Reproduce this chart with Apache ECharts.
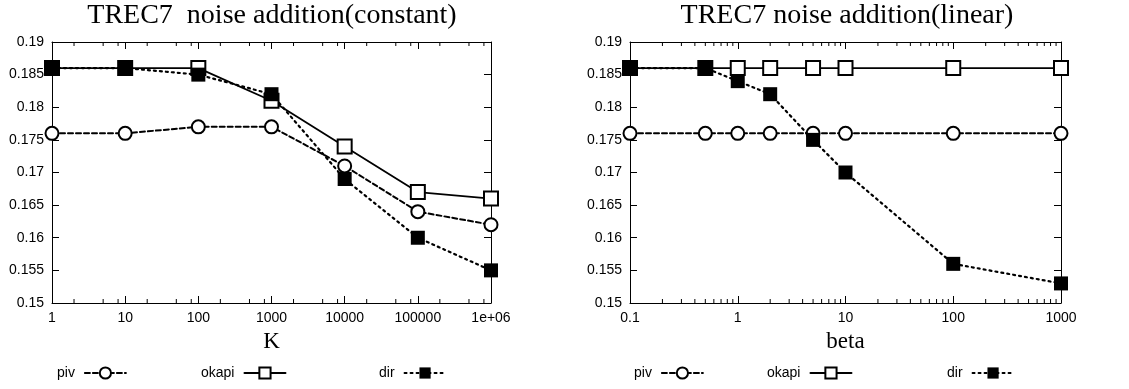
<!DOCTYPE html>
<html>
<head>
<meta charset="utf-8">
<script src="https://cdn.jsdelivr.net/npm/echarts@6/dist/echarts.min.js"></script>
<style>
  html, body { margin: 0; padding: 0; background: #fff; }
  #chart { width: 1129px; height: 389px; }
</style>
</head>
<body>
<div id="chart"></div>
<script>
// Left panel: constant noise, x = K
const kValues = [1, 10, 100, 1000, 10000, 100000, 1000000];
const pivConst = [0.176, 0.176, 0.177, 0.177, 0.171, 0.164, 0.162];
const okapiConst = [0.186, 0.186, 0.186, 0.181, 0.174, 0.167, 0.166];
const dirConst = [0.186, 0.186, 0.185, 0.182, 0.169, 0.160, 0.155];

// Right panel: linear noise, x = beta
const betaValues = [0.1, 0.5, 1, 2, 5, 10, 100, 1000];
const pivLinear = [0.176, 0.176, 0.176, 0.176, 0.176, 0.176, 0.176, 0.176];
const okapiLinear = [0.186, 0.186, 0.186, 0.186, 0.186, 0.186, 0.186, 0.186];
const dirLinear = [0.186, 0.186, 0.184, 0.182, 0.175, 0.170, 0.156, 0.153];

const titles = ['TREC7  noise addition(constant)', 'TREC7 noise addition(linear)'];
const xNames = ['K', 'beta'];
const seriesNames = ['piv', 'okapi', 'dir'];

const Y_MIN = 0.15, Y_MAX = 0.19, Y_STEP = 0.005;

const grids = [
  { left: 52, top: 42, width: 439, height: 261 },
  { left: 630, top: 42, width: 431, height: 261 }
];

const SANS = '"Liberation Sans", Arial, sans-serif';
const SERIF = '"Liberation Serif", "Times New Roman", serif';

function pairs(xs, ys) { return xs.map((x, i) => [x, ys[i]]); }

function fmtX(v) {
  if (v >= 1000000) return '1e+06';
  return String(Number(v.toPrecision(6)));
}
function fmtY(v) { return String(Number(v.toFixed(3))); }

// minor tick positions on the log axes
function minorTicks(lowExp, highExp, mults) {
  const out = [];
  for (let e = lowExp; e < highExp; e++) {
    mults.forEach(m => out.push([Number((m * Math.pow(10, e)).toPrecision(6)), Y_MIN]));
  }
  return out;
}
const minorLeft = minorTicks(0, 6, [2, 5, 8]);
const minorRight = minorTicks(-1, 3, [2, 3, 4, 5, 6, 7, 8, 9]);

const xAxes = [];
const yAxes = [];
[0, 1].forEach(g => {
  const xmin = g === 0 ? 1 : 0.1;
  const xmax = g === 0 ? 1000000 : 1000;
  const base = {
    type: 'log', logBase: 10, min: xmin, max: xmax, gridIndex: g,
    axisLine: { show: true, lineStyle: { color: '#000', width: 1 } },
    axisTick: { show: true, inside: true, length: 7, lineStyle: { color: '#000', width: 1 } },
    splitLine: { show: false },
    minorTick: { show: false }
  };
  xAxes.push(Object.assign({}, base, {
    position: 'bottom',
    name: xNames[g], nameLocation: 'middle', nameGap: 27,
    nameTextStyle: { fontFamily: SERIF, fontSize: 23, color: '#000' },
    axisLabel: { show: true, margin: 8, fontFamily: SANS, fontSize: 14, color: '#000', formatter: fmtX }
  }));
  xAxes.push(Object.assign({}, base, {
    position: 'top', axisLabel: { show: false }
  }));
  const ybase = {
    type: 'value', min: Y_MIN, max: Y_MAX, interval: Y_STEP, gridIndex: g,
    axisLine: { show: true, lineStyle: { color: '#000', width: 1 } },
    axisTick: { show: true, inside: true, length: 7, lineStyle: { color: '#000', width: 1 } },
    splitLine: { show: false }
  };
  yAxes.push(Object.assign({}, ybase, {
    position: 'left',
    axisLabel: { show: true, margin: 8, fontFamily: SANS, fontSize: 14, color: '#000', formatter: fmtY }
  }));
  yAxes.push(Object.assign({}, ybase, {
    position: 'right', axisLabel: { show: false }
  }));
});

const lineTypes = {
  piv: { type: [5, 3], width: 2 },
  okapi: { type: 'solid', width: 1.8 },
  dir: { type: [2, 4], width: 2.2 }
};
const symbolDefs = {
  piv: { symbol: 'circle', size: 13, fill: '#fff', border: 2 },
  okapi: { symbol: 'rect', size: 14, fill: '#fff', border: 2 },
  dir: { symbol: 'rect', size: 14, fill: '#000', border: 0 }
};

function lineSeries(name, g, data) {
  const s = symbolDefs[name];
  const lt = lineTypes[name];
  return {
    name: name, type: 'line', xAxisIndex: g * 2, yAxisIndex: g * 2,
    data: data,
    symbol: s.symbol, symbolSize: s.size, showAllSymbol: true,
    itemStyle: { color: s.fill, borderColor: '#000', borderWidth: s.border },
    lineStyle: { color: '#000', width: lt.width, type: lt.type, cap: 'round' },
    emphasis: { disabled: true },
    animation: false,
    z: 3 + seriesNames.indexOf(name)
  };
}

function minorSeries(g, data) {
  return {
    type: 'custom', xAxisIndex: g * 2, yAxisIndex: g * 2,
    data: data, silent: true, animation: false, z: 1,
    renderItem: function (params, api) {
      const x = api.value(0);
      const pb = api.coord([x, Y_MIN]);
      const pt = api.coord([x, Y_MAX]);
      const st = { stroke: '#000', lineWidth: 1 };
      return {
        type: 'group',
        children: [
          { type: 'line', shape: { x1: pb[0], y1: pb[1], x2: pb[0], y2: pb[1] - 4 }, style: st },
          { type: 'line', shape: { x1: pt[0], y1: pt[1], x2: pt[0], y2: pt[1] + 4 }, style: st }
        ]
      };
    }
  };
}

const series = [
  minorSeries(0, minorLeft),
  minorSeries(1, minorRight),
  lineSeries('piv', 0, pairs(kValues, pivConst)),
  lineSeries('okapi', 0, pairs(kValues, okapiConst)),
  lineSeries('dir', 0, pairs(kValues, dirConst)),
  lineSeries('piv', 1, pairs(betaValues, pivLinear)),
  lineSeries('okapi', 1, pairs(betaValues, okapiLinear)),
  lineSeries('dir', 1, pairs(betaValues, dirLinear))
];

// One key entry per legend component, placed under each panel
const legendLefts = [[57, 201, 379], [634, 767, 947]];
const legends = [];
legendLefts.forEach(row => {
  row.forEach((left, i) => {
    legends.push({
      data: [seriesNames[i]],
      left: left, top: 366, padding: 0,
      orient: 'horizontal', align: 'right',
      itemWidth: 41, itemHeight: 14,
      selectedMode: false,
      textStyle: { fontFamily: SANS, fontSize: 14, color: '#000', padding: [0, 5, 0, 0] }
    });
  });
});

const titleCenters = [272, 847];
const chart = echarts.init(document.getElementById('chart'), null, { renderer: 'canvas' });
chart.setOption({
  backgroundColor: '#fff',
  animation: false,
  title: titles.map((t, i) => ({
    text: t, left: titleCenters[i], top: 0, padding: [2, 0, 0, 0], textAlign: 'center',
    textStyle: { fontFamily: SERIF, fontSize: 28, fontWeight: 'normal', color: '#000' }
  })),
  legend: legends,
  grid: grids,
  xAxis: xAxes,
  yAxis: yAxes,
  series: series
});
</script>
</body>
</html>
